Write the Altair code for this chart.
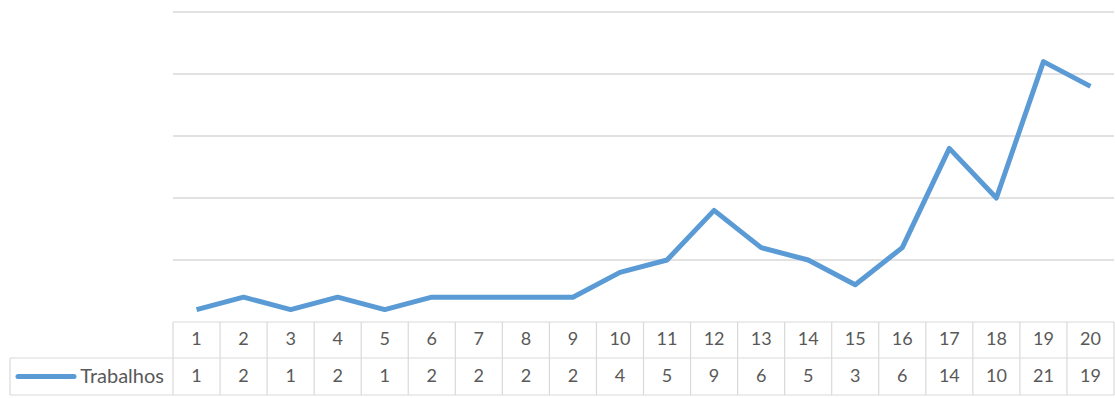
import altair as alt
import pandas as pd

# ---- data ----
categories = list(range(1, 21))
trabalhos = [1, 2, 1, 2, 1, 2, 2, 2, 2, 4, 5, 9, 6, 5, 3, 6, 14, 10, 21, 19]
grid_values = [5, 10, 15, 20, 25]
series_name = "Trabalhos"

# ---- layout (scale domains so the table sits under the plot) ----
W, H = 1115, 398
left_px, right_px = 173, 1114
cell_w = (right_px - left_px) / len(categories)
x_dom = [0.5 - left_px / cell_w, 0.5 + (W - left_px) / cell_w]
bottom_px, top_px = 322, 12
unit = (bottom_px - top_px) / 25
y_dom = [-(H - bottom_px) / unit, 25 + top_px / unit]

def xu(px):
    return 0.5 + (px - left_px) / cell_w

def yu(px):
    return (bottom_px - px) / unit

row1_bot = yu(358)
row2_bot = yu(395)
legend_left = xu(10)

xs = alt.Scale(domain=x_dom, nice=False, zero=False)
ys = alt.Scale(domain=y_dom, nice=False, zero=False)
GRID = "#d9d9d9"
TXT = "#595959"
BLUE = "#5b9bd5"
FONT = "Lato"
FS = 18

df = pd.DataFrame({"cat": categories, "val": trabalhos})

grid_df = pd.DataFrame({"y": grid_values, "x": 0.5, "x2": len(categories) + 0.5})
grid = alt.Chart(grid_df).mark_rule(color=GRID, strokeWidth=1.5).encode(
    x=alt.X("x:Q", scale=xs, axis=None), x2="x2", y=alt.Y("y:Q", scale=ys, axis=None)
)

# table borders
vlines = pd.DataFrame({"x": [c - 0.5 for c in categories] + [len(categories) + 0.5]})
vlines["y"] = 0
vlines["y2"] = row2_bot
vrule = alt.Chart(vlines).mark_rule(color=GRID, strokeWidth=1.2).encode(
    x=alt.X("x:Q", scale=xs), y=alt.Y("y:Q", scale=ys), y2="y2"
)
hlines = pd.DataFrame({
    "y": [0, row1_bot, row2_bot],
    "x": [0.5, legend_left, legend_left],
    "x2": [len(categories) + 0.5] * 3,
})
hrule = alt.Chart(hlines).mark_rule(color=GRID, strokeWidth=1.2).encode(
    x=alt.X("x:Q", scale=xs), x2="x2", y=alt.Y("y:Q", scale=ys)
)
lcell = pd.DataFrame({"x": [legend_left], "y": [row1_bot], "y2": [row2_bot]})
lrule = alt.Chart(lcell).mark_rule(color=GRID, strokeWidth=1.2).encode(
    x=alt.X("x:Q", scale=xs), y=alt.Y("y:Q", scale=ys), y2="y2"
)

line = alt.Chart(df).mark_line(color=BLUE, strokeWidth=5, strokeJoin="round").encode(
    x=alt.X("cat:Q", scale=xs), y=alt.Y("val:Q", scale=ys)
)

hdr_df = df.assign(y=row1_bot / 2)
hdr = alt.Chart(hdr_df).mark_text(fontSize=FS, color=TXT, font=FONT, baseline="middle").encode(
    x=alt.X("cat:Q", scale=xs), y=alt.Y("y:Q", scale=ys), text="cat:N"
)
val_df = df.assign(y=(row1_bot + row2_bot) / 2)
vals = alt.Chart(val_df).mark_text(fontSize=FS, color=TXT, font=FONT, baseline="middle").encode(
    x=alt.X("cat:Q", scale=xs), y=alt.Y("y:Q", scale=ys), text="val:N"
)

leg_line_df = pd.DataFrame({"x": [xu(18)], "x2": [xu(74)], "y": [(row1_bot + row2_bot) / 2]})
leg_line = alt.Chart(leg_line_df).mark_rule(color=BLUE, strokeWidth=5, strokeCap="round").encode(
    x=alt.X("x:Q", scale=xs), x2="x2", y=alt.Y("y:Q", scale=ys)
)
leg_txt_df = pd.DataFrame({"x": [xu(164)], "y": [(row1_bot + row2_bot) / 2], "t": [series_name]})
leg_txt = alt.Chart(leg_txt_df).mark_text(fontSize=20, color=TXT, font=FONT, align="right", baseline="middle").encode(
    x=alt.X("x:Q", scale=xs), y=alt.Y("y:Q", scale=ys), text="t:N"
)

chart = alt.layer(grid, vrule, hrule, lrule, line, hdr, vals, leg_line, leg_txt).properties(
    width=W, height=H, padding=0, autosize=alt.AutoSizeParams(type="none"), background="white"
).configure_view(stroke=None)

chart.save("out.html", embed_options={"renderer": "svg", "actions": False})
